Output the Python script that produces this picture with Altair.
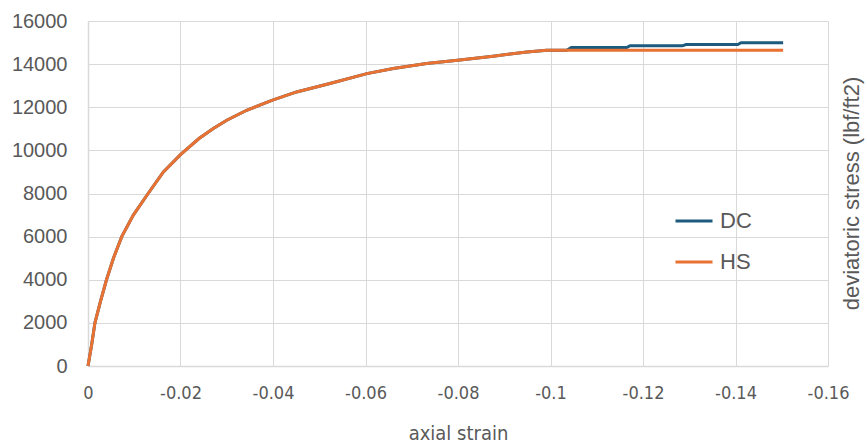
import altair as alt
import pandas as pd

# shared part of both curves (axial strain, deviatoric stress lbf/ft2)
common_strain = [0.0, -0.0008, -0.0015, -0.0027, -0.0040, -0.0055, -0.0073, -0.0098,
                 -0.0130, -0.0163, -0.0200, -0.0208, -0.0240, -0.0271, -0.0300,
                 -0.0343, -0.0399, -0.0451, -0.0523, -0.0603,
                 -0.0660, -0.0732, -0.0799, -0.0876, -0.0949, -0.0992]
common_stress = [0, 1000, 2000, 3000, 4000, 5000, 6000, 7000,
                 8000, 9000, 9800, 9950, 10550, 11015, 11400,
                 11860, 12330, 12710, 13100, 13560,
                 13800, 14030, 14180, 14370, 14560, 14640]

dc_tail_strain = [-0.1035, -0.1045, -0.1165, -0.1172, -0.1285, -0.1293, -0.1405, -0.1412, -0.1503]
dc_tail_stress = [14640, 14770, 14770, 14850, 14850, 14910, 14910, 14990, 14990]

hs_tail_strain = [-0.1503]
hs_tail_stress = [14640]

series = ["DC", "HS"]
colors = ["#1d5b7e", "#e97132"]

x_ticks = [0, -0.02, -0.04, -0.06, -0.08, -0.1, -0.12, -0.14, -0.16]
y_ticks = [0, 2000, 4000, 6000, 8000, 10000, 12000, 14000, 16000]

dc = pd.DataFrame({"strain": common_strain + dc_tail_strain,
                   "stress": common_stress + dc_tail_stress, "series": "DC"})
dc["order"] = range(len(dc))
hs = pd.DataFrame({"strain": common_strain + hs_tail_strain,
                   "stress": common_stress + hs_tail_stress, "series": "HS"})
hs["order"] = range(len(hs))

gray = "#595959"
narrow = "DejaVu Sans Condensed, Roboto Condensed, Liberation Sans Narrow, Arial Narrow, Roboto"
x_enc = alt.X("strain:Q",
              scale=alt.Scale(domain=[-0.16, 0], reverse=True, nice=False),
              axis=alt.Axis(values=x_ticks, labelExpr="'' + datum.value",
                            title="axial strain", grid=True, ticks=False,
                            labelFlush=False,
                            labelFont=narrow, labelFontSize=18,
                            labelColor=gray, labelPadding=18,
                            titleFont=narrow, titleFontSize=20,
                            titleFontWeight="normal", titleColor=gray,
                            titleBaseline="middle", titleY=67))
y_enc = alt.Y("stress:Q",
              scale=alt.Scale(domain=[0, 16000], nice=False),
              axis=alt.Axis(values=y_ticks, format="d", title="deviatoric stress (lbf/ft2)",
                            grid=True, ticks=False, labelFlush=False,
                            labelFont="Liberation Sans", labelFontSize=20,
                            labelColor=gray, labelPadding=21,
                            titleFont="Liberation Sans", titleFontSize=22,
                            titleFontWeight="normal", titleColor=gray,
                            titleAngle=270, titleAlign="center", titleBaseline="middle",
                            titleX=763, titleY=172))
color_enc = alt.Color("series:N",
                      scale=alt.Scale(domain=series, range=colors),
                      legend=alt.Legend(title=None, orient="none", legendX=586, legendY=180,
                                        symbolType="stroke", symbolSize=1369,
                                        symbolStrokeWidth=3, labelFont="Liberation Sans",
                                        labelFontSize=22, labelColor=gray, labelOffset=6,
                                        rowPadding=10))

dc_line = alt.Chart(dc).mark_line(strokeWidth=3).encode(
    x=x_enc, y=y_enc, color=color_enc, order="order:Q")
hs_line = alt.Chart(hs).mark_line(strokeWidth=3).encode(
    x=x_enc, y=y_enc, color=color_enc, order="order:Q")

chart = alt.layer(dc_line, hs_line).properties(
    width=740, height=345,
    autosize=alt.AutoSizeParams(type="none"),
    padding={"left": 88, "top": 21, "right": 39, "bottom": 77},
    background="white",
).configure_view(stroke=None).configure_axis(
    gridColor="#d9d9d9", gridWidth=1, domainColor="#d9d9d9", domainWidth=1.5
)

chart.save("out.html", embed_options={"renderer": "svg", "actions": False})
